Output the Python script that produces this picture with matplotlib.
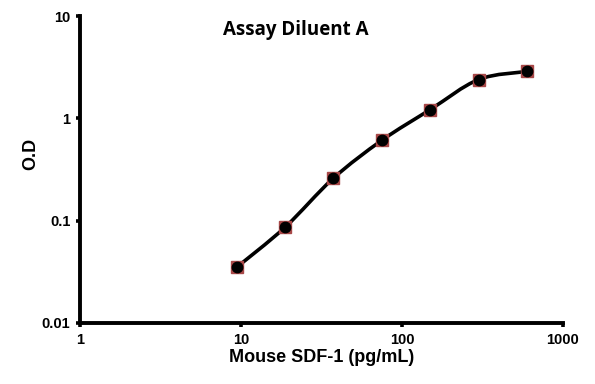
import matplotlib
matplotlib.use("Agg")
import matplotlib.pyplot as plt
from matplotlib.path import Path
from matplotlib.patches import PathPatch
import numpy as np

# standard curve, Assay Diluent A
conc = [9.4, 18.75, 37.5, 75, 150, 300, 600]
od = [0.035, 0.086, 0.26, 0.61, 1.22, 2.4, 2.88]

x_ticks = [1, 10, 100, 1000]
x_labels = ["1", "10", "100", "1000"]
y_ticks = [0.01, 0.1, 1, 10]
y_labels = ["0.01", "0.1", "1", "10"]

plt.rcParams['font.family'] = ['Liberation Sans', 'DejaVu Sans']

fig = plt.figure(figsize=(5.95, 3.84), dpi=100)
ax = fig.add_axes([0.1345, 0.159, 0.8115, 0.799])
ax.set_xscale('log')
ax.set_yscale('log')
ax.set_xlim(1, 1000)
ax.set_ylim(0.01, 10)

# smooth line (Excel style bezier) built in log space
lx = np.log10(conc)
ly = np.log10(od)
verts = [(lx[0], ly[0])]
codes = [Path.MOVETO]
n = len(lx)
for i in range(n - 1):
    p0 = (lx[max(i - 1, 0)], ly[max(i - 1, 0)])
    p1 = (lx[i], ly[i])
    p2 = (lx[i + 1], ly[i + 1])
    p3 = (lx[min(i + 2, n - 1)], ly[min(i + 2, n - 1)])
    c1 = (p1[0] + (p2[0] - p0[0]) / 6, p1[1] + (p2[1] - p0[1]) / 6)
    c2 = (p2[0] - (p3[0] - p1[0]) / 6, p2[1] - (p3[1] - p1[1]) / 6)
    verts += [c1, c2, p2]
    codes += [Path.CURVE4] * 3
verts = [(10 ** a, 10 ** b) for a, b in verts]
ax.add_patch(PathPatch(Path(verts, codes), facecolor='none', edgecolor='black',
                       lw=2.6, zorder=2))

ax.plot(conc, od, ls='none', marker='s', ms=9, mfc='#a84848', mec='#a84848', zorder=3)
ax.plot(conc, od, ls='none', marker='o', ms=7.5, mfc='black', mec='black', zorder=4)

ax.set_xticks(x_ticks)
ax.set_xticklabels(x_labels)
ax.set_yticks(y_ticks)
ax.set_yticklabels(y_labels)
ax.minorticks_off()
ax.tick_params(axis='both', length=3, width=2.6, labelsize=10.5, pad=4)
for lab in ax.get_xticklabels() + ax.get_yticklabels():
    lab.set_fontweight('bold')

for s in ['top', 'right']:
    ax.spines[s].set_visible(False)
for s in ['left', 'bottom']:
    ax.spines[s].set_linewidth(2.8)

ax.set_xlabel("Mouse SDF-1 (pg/mL)", fontsize=13, fontweight='bold', labelpad=2)
ax.set_ylabel("O.D", fontsize=13, fontweight='bold')
ax.yaxis.set_label_coords(-0.085, 0.55)
ax.text(0.447, 0.955, "Assay Diluent A", transform=ax.transAxes, ha='center', va='center',
        fontsize=13.5, fontweight='bold', family=['Open Sans', 'DejaVu Sans'])

fig.savefig("out.png", dpi=100)
